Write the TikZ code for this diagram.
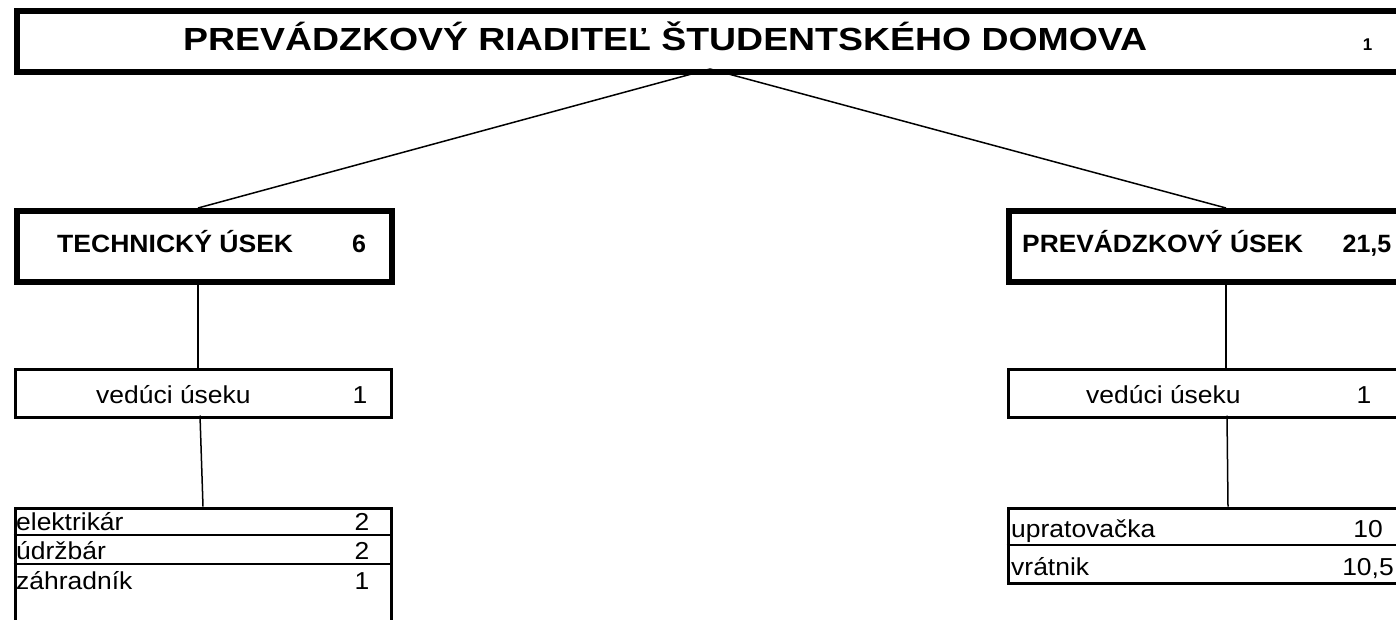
\documentclass[tikz,border=0pt]{standalone}
\usepackage{fontspec}
\setmainfont{Liberation Sans}
\usepackage{graphicx}
\newcommand\hs[1]{\scalebox{1.08}[1]{#1}}
\begin{document}
\begin{tikzpicture}[x=1pt,y=-1pt,
  heavybox/.style={draw, line width=6pt, inner sep=0pt, anchor=north west},
  midbox/.style={draw, line width=3pt, inner sep=0pt, anchor=north west},
  rowline/.style={line width=1.2pt},
  conn/.style={line width=1.5pt},
  txt/.style={inner sep=0pt, anchor=base west},
  num/.style={inner sep=0pt, anchor=base},
  bigf/.style={font=\fontsize{32}{36}\selectfont\bfseries},
  headf/.style={font=\fontsize{25}{30}\selectfont\bfseries},
  normf/.style={font=\fontsize{24.5}{29}\selectfont}]
\useasboundingbox (0,0) rectangle (1396,619);
\clip (0,0) rectangle (1396,619);
\fill[white] (0,0) rectangle (1396,619);

% boxes
\node[heavybox, minimum width=1420pt, minimum height=61pt] (top) at (14,8) {};
\node[heavybox, minimum width=375pt, minimum height=71pt] (tech) at (14,208) {};
\node[heavybox, minimum width=420pt, minimum height=71pt] (prev) at (1006,208) {};
\node[midbox, minimum width=376pt, minimum height=48pt] (tv) at (13.5,367.5) {};
\node[midbox, minimum width=420pt, minimum height=48pt] (pv) at (1006.5,367.5) {};
\node[midbox, minimum width=376pt, minimum height=130pt] (tt) at (13.5,506.5) {};
\node[midbox, minimum width=420pt, minimum height=75pt] (pt) at (1006.5,506.5) {};
\draw[rowline] (tt.west |- 0,535) -- (tt.east |- 0,535);
\draw[rowline] (tt.west |- 0,564) -- (tt.east |- 0,564);
\draw[rowline] (pt.west |- 0,545) -- (pt.east |- 0,545);

% texts
\node[txt, bigf] (title) at (183,50) {\resizebox{964pt}{\height}{PREVÁDZKOVÝ RIADITEĽ ŠTUDENTSKÉHO DOMOVA}};
\node[num, font=\fontsize{17}{20}\selectfont\bfseries] (titlen) at (1367.5,50) {1};

\node[txt, headf] (techl) at (57,252) {\resizebox{236pt}{\height}{TECHNICKÝ ÚSEK}};
\node[num, headf] (techn) at (359,252) {6};
\node[txt, headf] (prevl) at (1022,252) {\resizebox{281pt}{\height}{PREVÁDZKOVÝ ÚSEK}};
\node[num, headf] (prevn) at (1367,252) {21,5};

\node[txt, normf] (tvl) at (96,403) {\hs{vedúci úseku}};
\node[num, normf] (tvn) at (360,403) {\hs{1}};
\node[txt, normf] (pvl) at (1086,403) {\hs{vedúci úseku}};
\node[num, normf] (pvn) at (1364,403) {\hs{1}};

\node[txt, normf] (r1) at (16,530) {\hs{elektrikár}};
\node[num, normf] (r1n) at (362,530) {\hs{2}};
\node[txt, normf] (r2) at (16,559) {\hs{údržbár}};
\node[num, normf] (r2n) at (362,559) {\hs{2}};
\node[txt, normf] (r3) at (16,589) {\hs{záhradník}};
\node[num, normf] (r3n) at (362,589) {\hs{1}};

\node[txt, normf] (s1) at (1011,537) {\hs{upratovačka}};
\node[num, normf] (s1n) at (1368,537) {\hs{10}};
\node[txt, normf] (s2) at (1011,575) {\hs{vrátnik}};
\node[num, normf] (s2n) at (1368,575) {\hs{10,5}};

% connectors
\coordinate (apex) at (710,69);
\coordinate (techin) at (198,208);
\coordinate (previn) at (1226,208);
\coordinate (techout) at (198,279);
\coordinate (tvin) at (198,367.5);
\coordinate (prevout) at (1226,279);
\coordinate (pvin) at (1226,367.5);
\coordinate (tvout) at (200,415.5);
\coordinate (ttin) at (203,506.5);
\coordinate (pvout) at (1227,415.5);
\coordinate (ptin) at (1228,506.5);
\draw[conn] (apex) -- (techin);
\draw[conn] (apex) -- (previn);
\draw[conn] (techout) -- (tvin);
\draw[conn] (prevout) -- (pvin);
\draw[conn] (tvout) -- (ttin);
\draw[conn] (pvout) -- (ptin);
\end{tikzpicture}
\end{document}
